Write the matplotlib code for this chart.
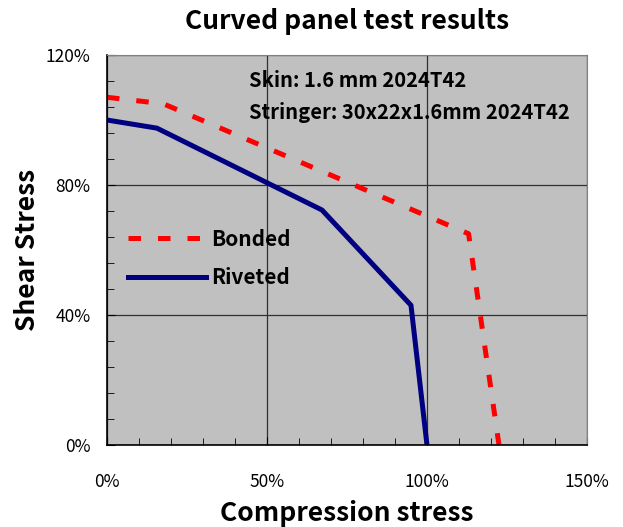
import matplotlib
matplotlib.use("Agg")
import matplotlib.pyplot as plt
from matplotlib.ticker import MultipleLocator, FuncFormatter

plt.rcParams["font.family"] = ["Noto Sans CJK JP", "DejaVu Sans"]

# compression stress (%) vs shear stress (%)
bonded_x = [0, 17.6, 113, 122.5]
bonded_y = [107, 105, 65, 0]
riveted_x = [0, 15.6, 67.2, 95, 100]
riveted_y = [100, 97.5, 72.3, 43, 0]

fig = plt.figure(figsize=(6.23, 5.27), dpi=100)
ax = fig.add_axes([0.1717, 0.1556, 0.7705, 0.74])
ax.set_facecolor("#c0c0c0")

ax.plot(bonded_x, bonded_y, color="#ff0000", lw=3.6, dashes=(2.5, 3.4),
        solid_capstyle="butt", dash_capstyle="butt", label="Bonded")
ax.plot(riveted_x, riveted_y, color="#000080", lw=3.6, label="Riveted")

ax.set_xlim(0, 150)
ax.set_ylim(0, 120)
ax.xaxis.set_major_locator(MultipleLocator(50))
ax.xaxis.set_minor_locator(MultipleLocator(10))
ax.yaxis.set_major_locator(MultipleLocator(40))
ax.yaxis.set_minor_locator(MultipleLocator(8))
pct = FuncFormatter(lambda v, p: f"{v:.0f}%")
ax.xaxis.set_major_formatter(pct)
ax.yaxis.set_major_formatter(pct)
ax.tick_params(which="both", direction="in", color="black", labelsize=12.5)
ax.tick_params(which="major", length=6)
ax.tick_params(which="minor", length=5)
ax.tick_params(axis="x", which="major", pad=20)
ax.tick_params(axis="y", which="major", pad=12)
ax.grid(True, which="major", color="#303030", lw=0.9)

for side in ("top", "right"):
    ax.spines[side].set_color("#808080")
for side in ("left", "bottom"):
    ax.spines[side].set_color("black")
    ax.spines[side].set_linewidth(1.2)

ax.set_title("Curved panel test results", fontsize=19, fontweight="bold", pad=19)
ax.set_xlabel("Compression stress", fontsize=19, fontweight="bold", labelpad=7)
ax.set_ylabel("Shear Stress", fontsize=19, fontweight="bold", labelpad=3)

ax.text(0.295, 0.935, "Skin: 1.6 mm 2024T42", transform=ax.transAxes,
        fontsize=14.5, fontweight="bold", va="center")
ax.text(0.295, 0.853, "Stringer: 30x22x1.6mm 2024T42", transform=ax.transAxes,
        fontsize=14.5, fontweight="bold", va="center")

leg = ax.legend(loc="center left", bbox_to_anchor=(0.005, 0.478), frameon=False,
                prop={"size": 15, "weight": "bold"}, handlelength=3.75,
                handletextpad=0.25, labelspacing=0.85)

fig.savefig("out.png", dpi=100)
